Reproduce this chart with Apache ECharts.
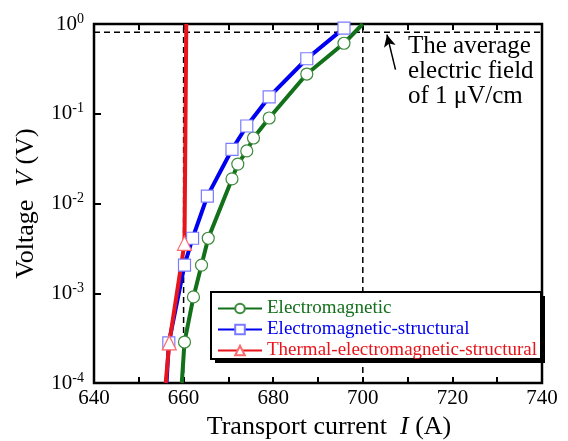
<!DOCTYPE html>
<html>
<head>
<meta charset="utf-8">
<script src="https://cdn.jsdelivr.net/npm/echarts@6/dist/echarts.min.js"></script>
<style>
  html, body {margin: 0; padding: 0; background: #fff;}
  #chart {width: 568px; height: 441px;}
</style>
</head>
<body>
<div id="chart"></div>
<script>
// electromagnetic
var emX = [659.6, 660.2, 662.2, 664.0, 665.5, 670.8, 672.1, 674.1, 675.6, 679.1, 687.5, 695.8, 700.0];
var emV = [0.0001, 0.000286, 0.00091, 0.00206, 0.0041, 0.0188, 0.0275, 0.0385, 0.0537, 0.0897, 0.277, 0.61, 1.0];
// electromagnetic-structural
var esX = [656.2, 656.7, 660.2, 662.0, 665.3, 670.8, 674.1, 679.1, 687.5, 695.8, 697.0];
var esV = [0.0001, 0.00028, 0.00206, 0.0041, 0.0121, 0.040, 0.073, 0.154, 0.41, 0.90, 1.0];
// thermal-electromagnetic-structural
var temX = [656.0, 656.8, 660.2, 660.6];
var temV = [0.0001, 0.00028, 0.0036, 1.0];
// first and last points of each curve carry no marker
var names = ['Electromagnetic', 'Electromagnetic-structural', 'Thermal-electromagnetic-structural'];
var colors = ['#13701a', '#0000f0', '#e8141b'];
var edgeColors = ['#3c8a3c', '#7b7bff', '#ff6b6b'];
var symbols = ['circle', 'rect', 'triangle'];

var criterionV = 0.81;   // 1 uV/cm line
var xTicks = [640, 740];
var yRange = [1e-4, 1];

var font = "'Liberation Serif', 'Times New Roman', serif";

function pts(xs, ys) {
    var out = [];
    for (var i = 0; i < xs.length; i++) {
        var p = {value: [xs[i], ys[i]]};
        if (i === 0 || i === xs.length - 1) p.symbol = 'none';
        out.push(p);
    }
    return out;
}

var chart = echarts.init(document.getElementById('chart'));

var dash = {color: '#000', width: 1.5, type: [6, 4]};
var series = [
    {type: 'line', data: [[640, criterionV], [740, criterionV]], symbol: 'none', lineStyle: dash, z: 1, silent: true,
     markLine: {
         silent: true, symbol: ['none', 'arrow'], symbolSize: [9, 12],
         lineStyle: {color: '#000', width: 1.5, type: 'solid'}, label: {show: false},
         data: [[{coord: [707.3, 0.31]}, {coord: [705.4, 0.76]}]]
     }},
    {type: 'line', data: [[700, yRange[0]], [700, yRange[1]]], symbol: 'none', lineStyle: dash, z: 1, silent: true},
    {type: 'line', data: [[660, yRange[0]], [660, yRange[1]]], symbol: 'none', lineStyle: dash, z: 1, silent: true}
];
var allX = [emX, esX, temX], allV = [emV, esV, temV];
for (var k = 0; k < 3; k++) {
    series.push({
        name: names[k], type: 'line', data: pts(allX[k], allV[k]),
        symbol: symbols[k], symbolSize: k === 2 ? 14 : 12, showAllSymbol: true,
        lineStyle: {color: colors[k], width: 4},
        itemStyle: {color: '#fff', borderColor: edgeColors[k], borderWidth: 1.2},
        z: 3
    });
}

var titleRich = {
    t: {fontFamily: font, fontSize: 26, color: '#000'},
    i: {fontFamily: font, fontSize: 26, fontStyle: 'italic', color: '#000'}
};

var option = {
    animation: false,
    grid: {left: 94, right: 26, top: 24, bottom: 58, outerBoundsMode: 'none', containLabel: false,
           show: true, borderColor: '#000', borderWidth: 2.5, backgroundColor: 'transparent'},
    legend: {
        data: names.map(function (n, i) { return {name: n, textStyle: {color: colors[i]}}; }),
        orient: 'vertical', left: 217, top: 299,
        itemWidth: 44, itemHeight: 12, itemGap: 2,
        padding: 0, z: 20,
        textStyle: {fontFamily: font, fontSize: 19, lineHeight: 17}
    },
    xAxis: [{
        type: 'value', min: xTicks[0], max: xTicks[1], interval: 10,
        name: '{t|Transport current  }{i|I}{t| (A)}', nameLocation: 'middle', nameGap: 27,
        nameTextStyle: {rich: titleRich, padding: [0, 0, 0, 22]},
        axisLine: {show: false},
        axisTick: {inside: true, length: 6, lineStyle: {color: '#000', width: 2}},
        axisLabel: {fontFamily: font, fontSize: 21, color: '#000', margin: 5,
            formatter: function (v) { return v % 20 === 0 ? String(v) : ''; }},
        splitLine: {show: false}
    }, {
        type: 'value', position: 'top', min: xTicks[0], max: xTicks[1], interval: 10,
        axisLine: {show: false},
        axisTick: {inside: true, length: 6, lineStyle: {color: '#000', width: 2}},
        axisLabel: {show: false}, splitLine: {show: false}
    }],
    yAxis: {
        type: 'log', logBase: 10, min: yRange[0], max: yRange[1],
        name: '{t|Voltage  }{i|V}{t| (V)}', nameLocation: 'middle', nameGap: 55,
        nameTextStyle: {rich: titleRich},
        axisLine: {show: false},
        axisTick: {inside: true, length: 7, lineStyle: {color: '#000', width: 2}},
        minorTick: {show: false},
        axisLabel: {
            margin: 10,
            formatter: function (v) { return '{b|10}{s|' + Math.round(Math.log10(v)) + '}'; },
            rich: {
                b: {fontFamily: font, fontSize: 21, color: '#000'},
                s: {fontFamily: font, fontSize: 14, color: '#000', verticalAlign: 'top', padding: [0, 0, 10, 0]}
            }
        },
        splitLine: {show: false}
    },
    graphic: [{
        // legend frame with a hard drop shadow
        type: 'rect', z: 14,
        shape: {x: 215, y: 296, width: 330, height: 67},
        style: {fill: '#000'}
    }, {
        type: 'rect', z: 15,
        shape: {x: 211, y: 292, width: 330, height: 67},
        style: {fill: '#fff', stroke: '#000', lineWidth: 2}
    }, {
        type: 'text', left: 408, top: 34, z: 10,
        style: {text: 'The average\nelectric field\nof 1 \u03bcV/cm', fontFamily: font, fontSize: 25,
                lineHeight: 25, fill: '#000', align: 'center'}
    }],
    series: series
};
chart.setOption(option);
</script>
</body>
</html>
